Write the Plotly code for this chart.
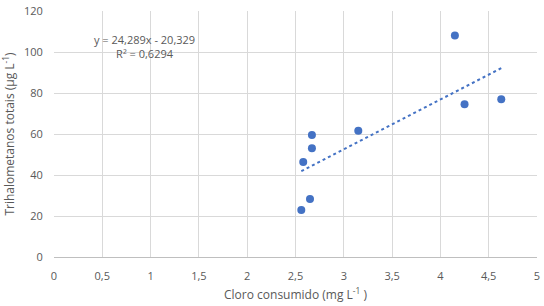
import plotly.graph_objects as go

cloro = [2.56, 2.65, 2.58, 2.67, 2.67, 3.15, 4.15, 4.25, 4.63]
thm = [22.9, 28.3, 46.3, 53.0, 59.5, 61.6, 108.1, 74.5, 76.9]
slope = 24.289
intercept = -20.329
x_ticks = [0, 0.5, 1, 1.5, 2, 2.5, 3, 3.5, 4, 4.5, 5]
x_tick_labels = ["0", "0,5", "1", "1,5", "2", "2,5", "3", "3,5", "4", "4,5", "5"]
y_ticks = [0, 20, 40, 60, 80, 100, 120]

tx = [min(cloro), max(cloro)]
ty = [slope * v + intercept for v in tx]

fig = go.Figure()
fig.add_trace(go.Scatter(x=tx, y=ty, mode="lines",
                         line=dict(color="#4472C4", width=2, dash="dot"),
                         hoverinfo="skip", cliponaxis=False))
fig.add_trace(go.Scatter(x=cloro, y=thm, mode="markers",
                         marker=dict(color="#4472C4", size=8), cliponaxis=False))

font = "Open Sans, Lato, sans-serif"
fig.update_layout(
    width=544, height=306,
    margin=dict(l=54, r=7, t=11, b=49),
    paper_bgcolor="white", plot_bgcolor="white",
    showlegend=False,
    font=dict(family=font, size=11, color="#595959"),
    xaxis=dict(range=[0, 5], tickvals=x_ticks, ticktext=x_tick_labels,
               automargin=False,
               showgrid=True, gridcolor="#d9d9d9", gridwidth=1,
               showline=True, linecolor="#bfbfbf", zeroline=False,
               ticks="outside", ticklen=9, tickcolor="rgba(0,0,0,0)",
               title=dict(text="Cloro consumido (mg L<sup>-1</sup> )",
                          font=dict(size=12, color="#595959"), standoff=8)),
    yaxis=dict(range=[0, 120], tickvals=y_ticks,
               automargin=False,
               showgrid=True, gridcolor="#d9d9d9", gridwidth=1,
               showline=False, zeroline=False,
               ticks="outside", ticklen=8, tickcolor="rgba(0,0,0,0)",
               title=dict(text="Trihalometanos totais (µg L<sup>-1</sup>)",
                          font=dict(size=12, color="#595959"), standoff=10)),
    annotations=[
        dict(x=0.94, y=102.5, xref="x", yref="y",
             text="y = 24,289x - 20,329<br>R² = 0,6294",
             showarrow=False, align="center",
             font=dict(size=11, color="#595959", family=font)),
    ],
)

fig.write_html("out.html", config={"displayModeBar": False},
               post_script="document.body.style.margin='0';document.body.style.overflow='hidden';")
